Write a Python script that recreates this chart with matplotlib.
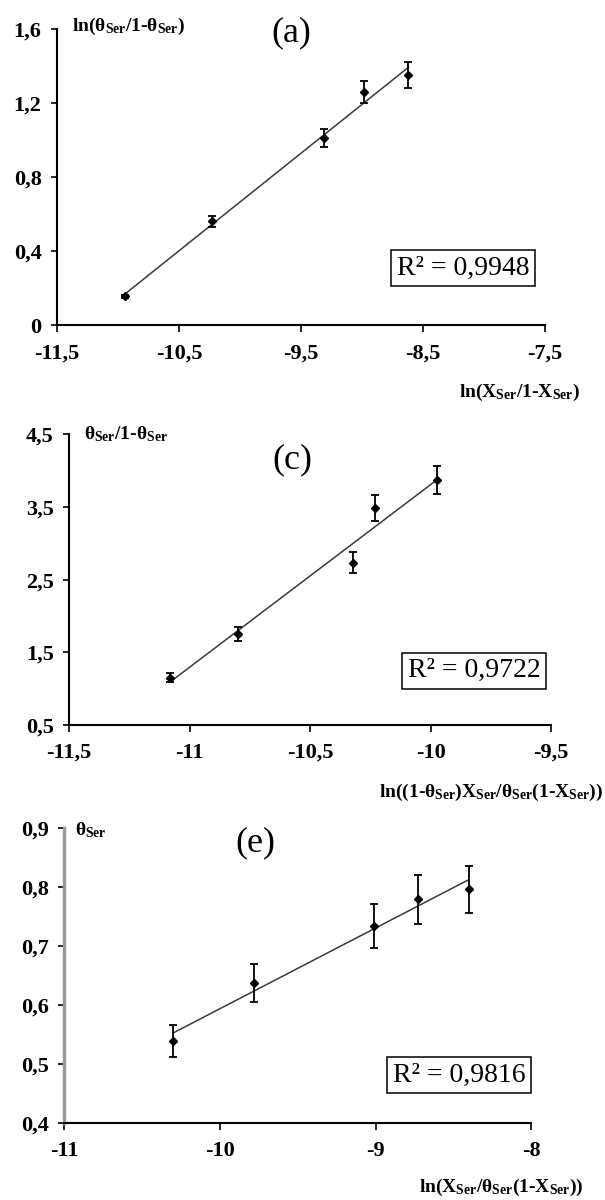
import numpy as np
from matplotlib import pyplot as plt

plt.rcParams['font.family'] = ['Liberation Serif', 'DejaVu Serif']
plt.rcParams['mathtext.fontset'] = 'custom'
plt.rcParams['mathtext.rm'] = 'Liberation Serif'
plt.rcParams['mathtext.bf'] = 'Liberation Serif:bold'
plt.rcParams['mathtext.it'] = 'Liberation Serif:italic'

# panel (a)
a_x = [-10.94, -10.23, -9.31, -8.98, -8.62]
a_y = [0.155, 0.56, 1.01, 1.258, 1.353]
a_err = [0.01, 0.03, 0.05, 0.06, 0.07]
a_xticks = [-11.5, -10.5, -9.5, -8.5, -7.5]
a_xlabels = ['-11,5', '-10,5', '-9,5', '-8,5', '-7,5']
a_yticks = [0, 0.4, 0.8, 1.2, 1.6]
a_ylabels = ['0', '0,4', '0,8', '1,2', '1,6']
a_r2 = 'R² = 0,9948'

# panel (c)
c_x = [-11.08, -10.80, -10.32, -10.23, -9.975]
c_y = [1.15, 1.75, 2.73, 3.49, 3.87]
c_err = [0.06, 0.10, 0.145, 0.18, 0.195]
c_xticks = [-11.5, -11, -10.5, -10, -9.5]
c_xlabels = ['-11,5', '-11', '-10,5', '-10', '-9,5']
c_yticks = [0.5, 1.5, 2.5, 3.5, 4.5]
c_ylabels = ['0,5', '1,5', '2,5', '3,5', '4,5']
c_r2 = 'R² = 0,9722'

# panel (e)
e_x = [-10.30, -9.78, -9.01, -8.73, -8.40]
e_y = [0.539, 0.638, 0.734, 0.779, 0.796]
e_err = [0.027, 0.032, 0.037, 0.041, 0.04]
e_xticks = [-11, -10, -9, -8]
e_xlabels = ['-11', '-10', '-9', '-8']
e_yticks = [0.4, 0.5, 0.6, 0.7, 0.8, 0.9]
e_ylabels = ['0,4', '0,5', '0,6', '0,7', '0,8', '0,9']
e_r2 = 'R² = 0,9816'

S = r'$_{\mathbf{Ser}}$'
a_ylab = 'ln(θ' + S + '/1-θ' + S + ')'
a_xlab = 'ln(X' + S + '/1-X' + S + ')'
c_ylab = 'θ' + S + '/1-θ' + S
c_xlab = 'ln((1-θ' + S + ')X' + S + '/θ' + S + '(1-X' + S + '))'
e_ylab = 'θ' + S
e_xlab = 'ln(X' + S + '/θ' + S + '(1-X' + S + '))'

fig = plt.figure(figsize=(6.05, 12), dpi=100)


def panel(rect, x, y, err, xt, xl, yt, yl, r2, tag, tagpos, r2pos,
          ylab, ylabpos, xlab, xlabpos, ycol='black', ylw=1.5):
    ax = fig.add_axes(rect)
    ax.set_xlim(xt[0], xt[-1])
    ax.set_ylim(yt[0], yt[-1])
    for s in ['top', 'right']:
        ax.spines[s].set_visible(False)
    ax.spines['bottom'].set_linewidth(1.5)
    ax.spines['left'].set_linewidth(ylw)
    ax.spines['left'].set_color(ycol)
    ax.set_xticks(xt)
    ax.set_xticklabels(xl)
    ax.set_yticks(yt)
    ax.set_yticklabels(yl)
    ax.tick_params(axis='x', direction='out', length=5, width=1.2, pad=8,
                   labelsize=16)
    ax.tick_params(axis='y', direction='out', length=4, width=1.2, pad=7,
                   labelsize=16)
    for lab in ax.get_xticklabels() + ax.get_yticklabels():
        lab.set_fontweight('bold')

    # linear fit
    k, b = np.polyfit(x, y, 1)
    xf = np.array([min(x), max(x)])
    ax.plot(xf, k * xf + b, color='#3a3a3a', lw=1.1, zorder=2)
    ax.errorbar(x, y, yerr=err, fmt='D', ms=4.5, color='black',
                ecolor='black', elinewidth=1.3, capsize=3, capthick=1.3,
                zorder=3)

    ax.text(r2pos[0], r2pos[1], r2, transform=ax.transAxes, fontsize=20,
            ha='center', va='center',
            bbox=dict(boxstyle='square,pad=0.2', fc='white', ec='black',
                      lw=1.1))
    ax.text(tagpos[0], tagpos[1], tag, transform=ax.transAxes, fontsize=26,
            ha='center', va='center')
    ax.text(ylabpos[0], ylabpos[1], ylab, transform=ax.transAxes,
            fontsize=14, fontweight='bold', ha='left', va='center')
    ax.text(xlabpos[0], xlabpos[1], xlab, transform=ax.transAxes,
            fontsize=14, fontweight='bold', ha='right', va='center')
    return ax


panel([0.094, 0.729, 0.807, 0.247], a_x, a_y, a_err,
      a_xticks, a_xlabels, a_yticks, a_ylabels, a_r2,
      '(a)', (0.48, 0.986), (0.832, 0.193),
      a_ylab, (0.03, 1.007), a_xlab, (1.072, -0.226))

panel([0.114, 0.396, 0.797, 0.242], c_x, c_y, c_err,
      c_xticks, c_xlabels, c_yticks, c_ylabels, c_r2,
      '(c)', (0.463, 0.914), (0.84, 0.186),
      c_ylab, (0.031, 1.0), c_xlab, (1.108, -0.234))

panel([0.106, 0.064, 0.772, 0.246], e_x, e_y, e_err,
      e_xticks, e_xlabels, e_yticks, e_ylabels, e_r2,
      '(e)', (0.409, 0.949), (0.846, 0.163),
      e_ylab, (0.024, 0.993), e_xlab, (1.111, -0.217),
      ycol='#9a9a9a', ylw=2.5)

fig.savefig('out.png', dpi=100)
